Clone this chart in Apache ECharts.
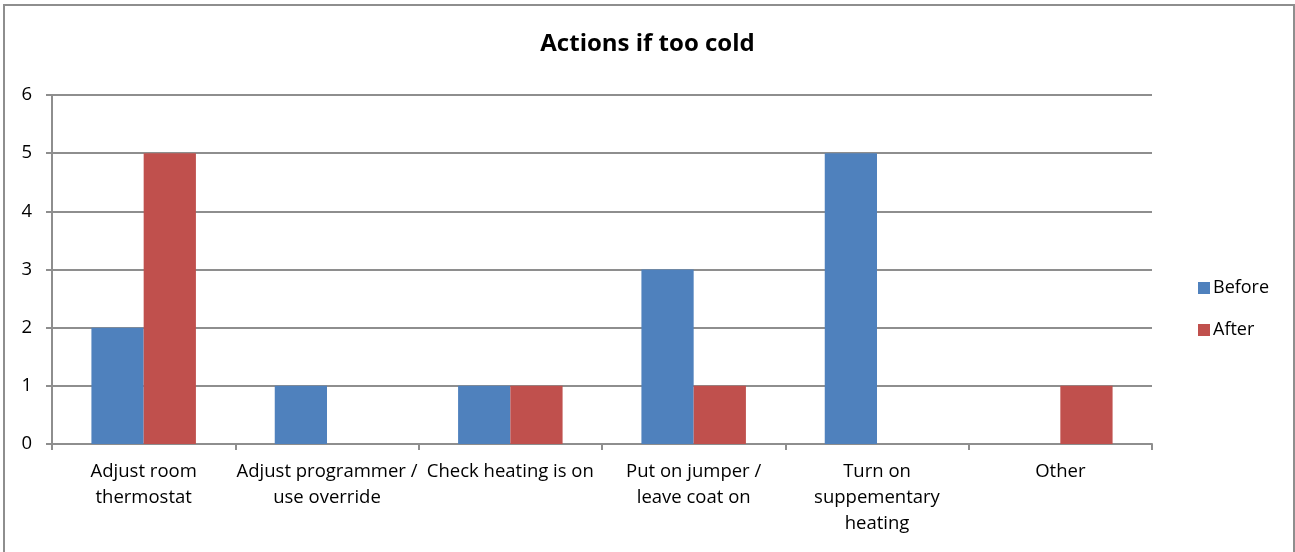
<!DOCTYPE html>
<html>
<head>
<meta charset="utf-8">
<script src="https://cdn.jsdelivr.net/npm/echarts@6/dist/echarts.min.js"></script>
<style>
html,body{margin:0;padding:0;background:#fff;}
#chart{width:1295px;height:552px;}
</style>
</head>
<body>
<div id="chart"></div>
<script>
const titleText = "Actions if too cold";
const categories = [
  "Adjust room\nthermostat",
  "Adjust programmer /\nuse override",
  "Check heating is on",
  "Put on jumper /\nleave coat on",
  "Turn on\nsuppementary\nheating",
  "Other"
];
const seriesNames = ["Before", "After"];
const beforeValues = [2, 1, 1, 3, 5, 0];
const afterValues = [5, 0, 1, 1, 0, 1];
const yMin = 0, yMax = 6, yInterval = 1;

const FONT = "Open Sans";
const GRID_COLOR = '#8E8E8E';
const chart = echarts.init(document.getElementById('chart'), null, {renderer: 'canvas'});
chart.setOption({
  animation: false,
  backgroundColor: '#fff',
  textStyle: {fontFamily: FONT, color: '#000'},
  title: {
    text: titleText,
    left: 'center',
    top: 27,
    textStyle: {fontFamily: FONT, fontSize: 24, fontWeight: 'bold', color: '#000'}
  },
  legend: {
    orient: 'vertical',
    left: 1193,
    top: 273,
    itemWidth: 12,
    itemHeight: 12,
    itemGap: 22,
    icon: 'rect',
    textStyle: {fontFamily: FONT, fontSize: 18, color: '#000', padding: [0,0,0,-2], lineHeight: 20},
    data: seriesNames
  },
  grid: {left: 52, right: 143, top: 95, bottom: 108, containLabel: false},
  xAxis: {
    type: 'category',
    data: categories,
    axisLine: {show: true, lineStyle: {color: GRID_COLOR, width: 2}},
    axisTick: {show: true, length: 6, lineStyle: {color: GRID_COLOR, width: 2}},
    axisLabel: {fontFamily: FONT, fontSize: 18.5, color: '#000', margin: 15, lineHeight: 26, interval: 0},
    splitLine: {show: false}
  },
  yAxis: {
    type: 'value',
    min: yMin, max: yMax, interval: yInterval,
    axisLine: {show: true, lineStyle: {color: GRID_COLOR, width: 2}},
    axisTick: {show: true, length: 6, lineStyle: {color: GRID_COLOR, width: 2}},
    axisLabel: {fontFamily: FONT, fontSize: 18.5, color: '#000', margin: 20},
    splitLine: {show: true, lineStyle: {color: GRID_COLOR, width: 2}}
  },
  series: [
    {name: seriesNames[0], type: 'bar', data: beforeValues, barGap: '0%', barCategoryGap: '43%', itemStyle: {color: '#4F81BD'}},
    {name: seriesNames[1], type: 'bar', data: afterValues, barGap: '0%', barCategoryGap: '43%', itemStyle: {color: '#C0504D'}}
  ],
  graphic: [{
    type: 'rect', silent: true, z: 100,
    shape: {x: 4, y: 5, width: 1290, height: 560},
    style: {fill: 'none', stroke: GRID_COLOR, lineWidth: 2}
  }]
});
</script>
</body>
</html>
